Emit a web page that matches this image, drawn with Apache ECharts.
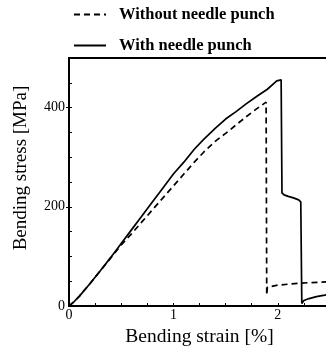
<!DOCTYPE html>
<html>
<head>
<meta charset="utf-8">
<script src="https://cdn.jsdelivr.net/npm/echarts@6/dist/echarts.min.js"></script>
<style>html,body{margin:0;padding:0;background:#fff}#c{width:326px;height:347px}</style>
</head>
<body>
<div id="c"></div>
<script>
// Bending strain [%] / Bending stress [MPa]
var withoutStrain = [0, 0.05, 0.1, 0.2, 0.3, 0.4, 0.5, 0.6, 0.7, 0.8, 0.9, 1.0, 1.1, 1.2, 1.29, 1.4, 1.5, 1.6, 1.7, 1.8, 1.888, 1.894, 1.9, 2.0, 2.1, 2.2, 2.3, 2.4, 2.5];
var withoutStress = [0, 9, 20, 45, 71, 97, 123, 146, 170, 194, 218, 242, 266, 290, 310, 332, 348, 365, 382, 398, 411, 22, 38, 42, 44, 46, 47, 48, 49];
var withStrain = [0, 0.05, 0.1, 0.2, 0.3, 0.4, 0.5, 0.6, 0.7, 0.8, 0.9, 1.0, 1.1, 1.2, 1.29, 1.4, 1.5, 1.6, 1.7, 1.8, 1.9, 1.99, 2.032, 2.04, 2.06, 2.1, 2.15, 2.2, 2.22, 2.23, 2.25, 2.3, 2.37, 2.45, 2.5];
var withStress = [0, 9, 20, 45, 71, 98, 126, 154, 182, 210, 238, 266, 290, 316, 336, 358, 377, 392, 408, 423, 437, 454, 456, 228, 224, 221, 218, 214, 210, 5, 11, 15, 19, 22, 24];
var seriesNames = ['Without needle punch', 'With needle punch'];
var xLabelValues = [0, 1, 2];
var yLabelValues = [0, 200, 400];

function pairs(xs, ys) { return xs.map(function (x, i) { return [x, ys[i]]; }); }

var font = '"Liberation Serif", "DejaVu Serif", serif';
var chart = echarts.init(document.getElementById('c'), null, {renderer: 'canvas'});
chart.setOption({
  animation: false,
  backgroundColor: '#fff',
  legend: {
    orient: 'vertical', left: 73, top: 6, padding: 0,
    itemWidth: 32, itemHeight: 16, itemGap: 14,
    data: seriesNames,
    itemStyle: {color: 'rgba(0,0,0,0)', borderWidth: 0, opacity: 0},
    textStyle: {fontFamily: font, fontWeight: 'bold', fontSize: 16.5, color: '#000', padding: [0, 0, 0, 8]}
  },
  grid: {left: 69, top: 58, width: 261, height: 248, show: true, borderColor: '#000', borderWidth: 2, containLabel: false, outerBoundsMode: 'none'},
  xAxis: [{
    type: 'value', min: 0, max: 2.5, interval: 0.25,
    name: 'Bending strain [%]', nameLocation: 'middle', nameGap: 18,
    nameTextStyle: {fontFamily: font, fontSize: 19.5, color: '#000'},
    axisLine: {lineStyle: {color: '#000', width: 2}},
    axisTick: {inside: true, length: 3, lineStyle: {color: '#000', width: 1}},
    axisLabel: {customValues: xLabelValues, fontFamily: font, fontSize: 14, color: '#000', margin: 2},
    splitLine: {show: false}
  }],
  yAxis: [{
    type: 'value', min: 0, max: 500, interval: 50,
    name: 'Bending stress [MPa]', nameLocation: 'middle', nameGap: 38,
    nameTextStyle: {fontFamily: font, fontSize: 19, color: '#000', padding: [0, 0, 0, 28]},
    axisLine: {lineStyle: {color: '#000', width: 2}},
    axisTick: {inside: true, length: 3, lineStyle: {color: '#000', width: 1}},
    axisLabel: {customValues: yLabelValues, fontFamily: font, fontSize: 14, color: '#000', margin: 4},
    splitLine: {show: false}
  }, {
    type: 'value', min: 0, max: 500, position: 'left',
    axisLine: {show: false},
    axisTick: {show: true, customValues: [200, 400], inside: false, length: 3, lineStyle: {color: '#000', width: 1}},
    axisLabel: {show: false},
    splitLine: {show: false}
  }],
  series: [{
    name: seriesNames[0], type: 'line', showSymbol: false, symbol: 'none',
    data: pairs(withoutStrain, withoutStress),
    lineStyle: {color: '#000', width: 1.7, type: [6, 4]},
    itemStyle: {color: '#000'}
  }, {
    name: seriesNames[1], type: 'line', showSymbol: false, symbol: 'none',
    data: pairs(withStrain, withStress),
    lineStyle: {color: '#000', width: 1.7, type: 'solid'},
    itemStyle: {color: '#000'}
  }]
});
</script>
</body>
</html>
